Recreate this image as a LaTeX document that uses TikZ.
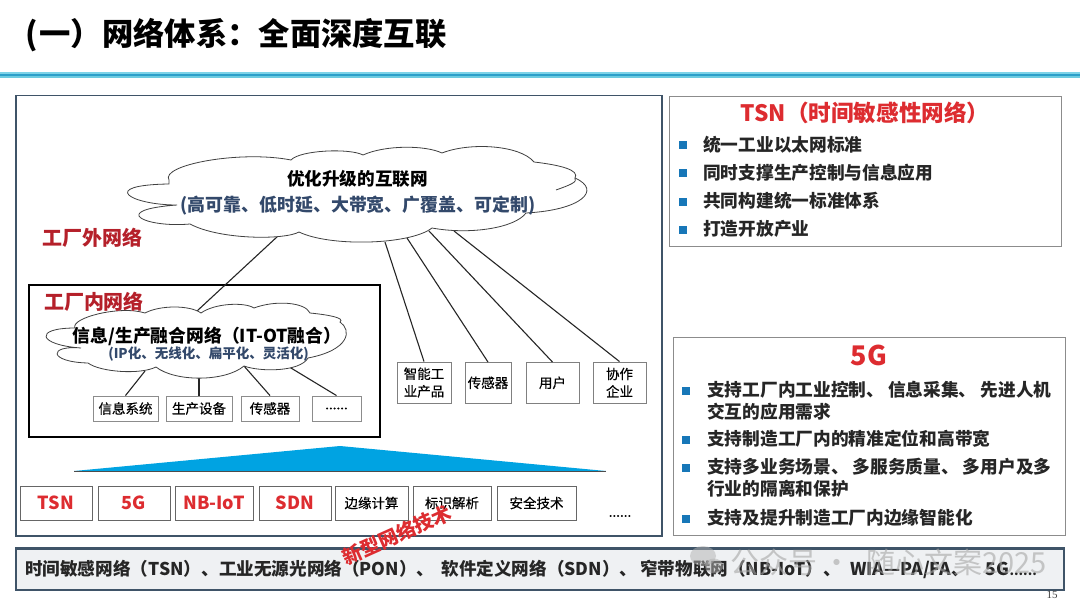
\documentclass[tikz,border=0pt]{standalone}
\usepackage{fontspec}
\setmainfont{Noto Sans CJK SC}
\newfontfamily\pagenofont{Liberation Serif}
\newfontfamily\medfont{Noto Sans CJK SC}[FakeBold=0.35]
\definecolor{frameblue}{HTML}{3F5468}
\definecolor{darkred}{HTML}{B5202A}
\definecolor{brightred}{HTML}{DD2C30}
\definecolor{slatetext}{HTML}{33496B}
\definecolor{bulletblue}{HTML}{1777B8}
\definecolor{triblue}{HTML}{00A3E2}
\definecolor{barfill}{HTML}{EFF1F3}
\definecolor{rulelight}{HTML}{7DD3E8}
\definecolor{rulemid}{HTML}{2C9FC9}
\definecolor{rulelow}{HTML}{6CCBE0}
\newcommand{\fs}[2]{\fontsize{#1}{#2}\selectfont}
\newcommand{\pk}[1]{\kern#1pt\relax}
\tikzset{
  frame/.style={draw=frameblue,line width=1.2pt},
  sidebox/.style={draw=gray!90,line width=1pt},
  cloudline/.style={draw=black!75,line width=0.8pt,fill=white},
  wire/.style={draw=black!85,line width=1.1pt},
  tinybox/.style={draw=black!45,line width=0.9pt,fill=white,minimum height=25pt,inner sep=0pt,font=\medfont\fs{13.5}{19}},
  uprightbox/.style={draw=black!50,line width=0.9pt,fill=white,inner sep=0pt,minimum height=41pt,align=center,font=\medfont\fs{13.5}{17.5}},
  techbox/.style={draw=black!60,line width=0.8pt,fill=white,minimum height=34pt,inner sep=0pt,font=\medfont\fs{13.5}{19}},
  redtech/.style={techbox,text=brightred,font=\fs{18}{22}\bfseries},
  bulletline/.style={anchor=west,inner sep=0pt,font=\fs{17.7}{22}\bfseries,text=black!85},
  bulletmark/.style={fill=bulletblue,minimum size=8pt,inner sep=0pt},
  redlabel/.style={text=darkred,inner sep=0pt,font=\fs{20}{24}\bfseries},
  watermark/.style={text=gray!70,opacity=.6,inner sep=0pt,font=\fs{29}{34}},
}
\begin{document}
\begin{tikzpicture}[x=1pt,y=-1pt]
\useasboundingbox (0,0) rectangle (1080,608);
\fill[white] (0,0) rectangle (1080,608);
% title and rule
\node[anchor=west,inner sep=0pt,font=\fs{31.3}{35}\bfseries] (title) at (25,35) {(\pk{2}一）网络体系：全面深度互联};
\fill[rulelight] (0,71.5) rectangle (1080,73.5);
\fill[rulemid] (0,73.5) rectangle (1080,76);
\fill[rulelow] (0,76) rectangle (1080,78);
% main frame
\draw[frame] (16,95.5) rectangle (662,536);
% wire ends on the big cloud
\coordinate (bigA) at (278,236);
\coordinate (bigB) at (385,242);
\coordinate (bigC) at (407,238);
\coordinate (bigD) at (429,231);
\coordinate (bigE) at (454,231);
% inner frame
\draw[draw=black,line width=1.4pt,fill=white] (29,285) rectangle (380,437);
% boxes
\node[uprightbox,minimum width=54pt] (p1) at (424,382.5) {智能工\\业产品};
\node[uprightbox,minimum width=46pt] (p2) at (488,383) {\raisebox{1.5pt}{传感器}};
\node[uprightbox,minimum width=53pt] (p3) at (552.5,383) {\raisebox{1.5pt}{用户}};
\node[uprightbox,minimum width=53pt] (p4) at (619.5,382.5) {协作\\企业};
\node[tinybox,minimum width=65pt] (s1) at (125.5,408.5) {信息系统};
\node[tinybox,minimum width=66pt] (s2) at (199,408.5) {生产设备};
\node[tinybox,minimum width=58pt] (s3) at (270,408.5) {传感器};
\node[tinybox,minimum width=49pt] (s4) at (336.5,408.5) {......};
% wire ends on the small cloud
\coordinate (midTop) at (197,311);
\coordinate (smA) at (145,371);
\coordinate (smB) at (199,376);
\coordinate (smC) at (244,366);
\coordinate (smD) at (286,365);
% wires
\draw[wire] (bigA) -- (midTop);
\draw[wire] (bigB) -- (p1.north);
\draw[wire] (bigC) -- (p2.north);
\draw[wire] (bigD) -- (p3.north);
\draw[wire] (bigE) -- (p4.north);
\draw[wire] (smA) -- (s1.north);
\draw[wire] (smB) -- (s2.north);
\draw[wire] (smC) -- (s3.north);
\draw[wire] (smD) -- (s4.north);
% big cloud
\path[cloudline] (169,180) .. controls (160,165) and (240,150) .. (291,160)
  .. controls (300,150) and (350,148) .. (363,155)
  .. controls (385,145) and (425,145) .. (442,153)
  .. controls (470,142) and (520,145) .. (534,162)
  .. controls (560,165) and (580,170) .. (575,178)
  .. controls (602,190) and (582,210) .. (526,213)
  .. controls (515,228) and (470,235) .. (432,228)
  .. controls (410,245) and (330,247) .. (299,232)
  .. controls (285,240) and (220,240) .. (190,224)
  .. controls (145,228) and (108,210) .. (177,205)
  .. controls (130,205) and (98,185) .. (169,184) -- cycle;
\draw[draw=black!75,line width=0.8pt] (575,178) .. controls (578,182) and (570,185) .. (556,190);
\node[inner sep=0pt,font=\fs{17.6}{22}\bfseries] (bigT) at (357.5,179) {优化升级的互联网};
\node[inner sep=0pt,text=slatetext,font=\fs{17.9}{22}\bfseries] (bigS) at (358,206) {(高可靠、低时延、大带宽、广覆盖、可定制)};
% small cloud
\path[cloudline] (75,328) .. controls (70,318) and (120,305) .. (145,313)
  .. controls (160,305) and (190,305) .. (201,313)
  .. controls (215,303) and (245,302) .. (254,308)
  .. controls (275,300) and (305,302) .. (310,313)
  .. controls (330,315) and (345,318) .. (340,322)
  .. controls (352,330) and (350,350) .. (308,358)
  .. controls (300,372) and (260,372) .. (244,366)
  .. controls (225,382) and (175,382) .. (156,367)
  .. controls (140,375) and (100,372) .. (88,363)
  .. controls (48,362) and (48,345) .. (81,348)
  .. controls (38,345) and (33,328) .. (75,328) -- cycle;
\node[inner sep=0pt,font=\fs{17.8}{22}\bfseries] (midT) at (207,336) {信息/生产融合网络（IT-OT融合）};
\node[inner sep=0pt,text=slatetext,font=\fs{13.5}{16}\bfseries] (midS) at (208.5,354) {(IP化、无线化、扁平化、灵活化)};
% red labels
\node[redlabel] (outL) at (92,238) {工厂外网络};
\node[redlabel] (inL) at (94,302) {工厂内网络};
% triangle
\fill[triblue] (74,471) -- (340,446) -- (606,471) -- cycle;
\draw[black!70,line width=0.6pt] (74,471) -- (606,471);
% tech boxes
\node[redtech,minimum width=72pt] (t1) at (56,503) {TSN};
\node[redtech,minimum width=72pt] (t2) at (134,503) {5G};
\node[redtech,minimum width=78pt] (t3) at (214,503) {NB-IoT};
\node[redtech,minimum width=72pt] (t4) at (295,503) {SDN};
\node[techbox,minimum width=73pt] (t5) at (371.5,503) {边缘计算};
\node[techbox,minimum width=78pt] (t6) at (452,503) {标识解析};
\node[techbox,minimum width=79pt] (t7) at (536.5,503) {安全技术};
\node[inner sep=0pt,font=\medfont\fs{13.5}{16}] (tmore) at (620,516) {......};
% bottom bar
\draw[draw=frameblue,line width=2.4pt,fill=barfill] (16,548.5) rectangle (1064,590);
\node[anchor=west,inner sep=0pt,font=\fs{17.6}{22}\bfseries,text=black!85] (bar) at (25,569) {时间敏感网络（TSN）、工业无源光网络（PON）、\pk{7}软件定义网络（SDN）、\pk{3}窄带物联网（NB-IoT）、\pk{9}WIA—PA/FA、\pk{17}5G{\fs{13}{16}......}};
% watermark
\fill[gray!60,opacity=.5] (703,556) ellipse (13 and 10);
\fill[gray!60,opacity=.5] (714,566) ellipse (9 and 7.5);
\node[watermark,anchor=west] (wm) at (730,562) {公众号\pk{5.5}·\pk{15}随心文案2025};
% rotated label
\node[inner sep=0pt,rotate=24,text=brightred,font=\fs{19.5}{22}\bfseries] (newtech) at (397,535) {新型网络技术};
% TSN panel
\draw[sidebox] (669,96) rectangle (1061,246);
\node[inner sep=0pt,text=brightred,font=\fs{22.6}{26}\bfseries] (tsnT) at (865,113) {TSN（时间敏感性网络）};
\node[bulletmark] (a1) at (683,145) {};
\node[bulletmark] (a2) at (683,173) {};
\node[bulletmark] (a3) at (683,202) {};
\node[bulletmark] (a4) at (683,230) {};
\node[bulletline] (at1) at (703,145) {统一工业以太网标准};
\node[bulletline] (at2) at (703,173) {同时支撑生产控制与信息应用};
\node[bulletline] (at3) at (703,201) {共同构建统一标准体系};
\node[bulletline] (at4) at (703,229) {打造开放产业};
% 5G panel
\draw[sidebox] (673,337) rectangle (1065,535);
\node[inner sep=0pt,text=brightred,font=\fs{27}{30}\bfseries] (fgT) at (869,355) {5G};
\node[bulletmark] (b1) at (686,391) {};
\node[bulletmark] (b2) at (686,440) {};
\node[bulletmark] (b3) at (686,468) {};
\node[bulletmark] (b4) at (686,519) {};
\node[bulletline] (bt1) at (707,390) {支持工厂内工业控制、\pk{4}信息采集、\pk{4}先进人机};
\node[bulletline] (bt1b) at (707,412) {交互的应用需求};
\node[bulletline] (bt2) at (707,439) {支持制造工厂内的精准定位和高带宽};
\node[bulletline] (bt3) at (707,467) {支持多业务场景、\pk{4}多服务质量、\pk{4}多用户及多};
\node[bulletline] (bt3b) at (707,489) {行业的隔离和保护};
\node[bulletline] (bt4) at (707,518) {支持及提升制造工厂内边缘智能化};
% page number
\node[inner sep=0pt,font=\pagenofont\fs{11}{12},text=black!75] (pg) at (1052,595) {15};
\end{tikzpicture}
\end{document}
